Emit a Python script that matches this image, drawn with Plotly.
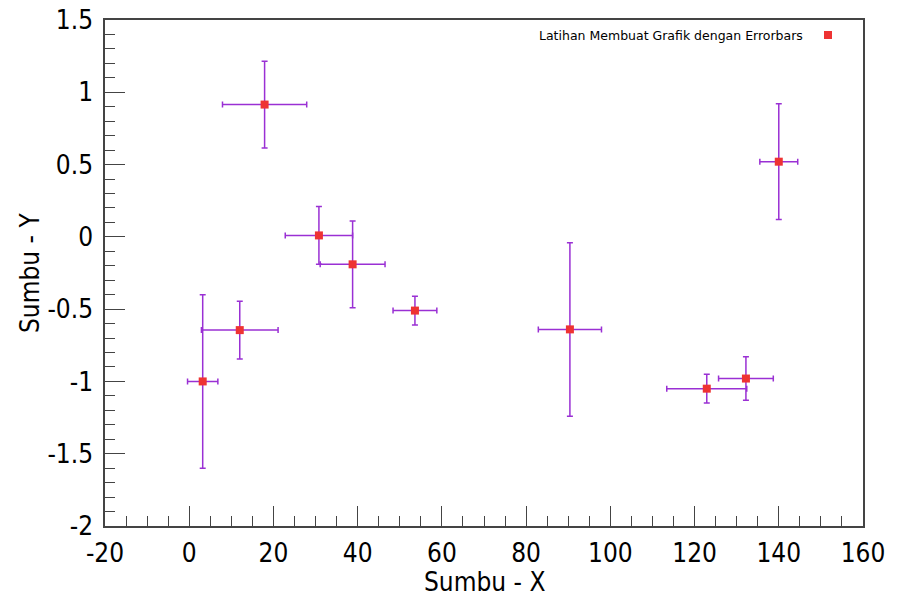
import plotly.graph_objects as go

x_vals = [3.2, 12.0, 17.9, 30.8, 38.8, 53.6, 90.4, 122.9, 132.2, 140.0]
y_vals = [-1.0, -0.645, 0.915, 0.01, -0.19, -0.51, -0.64, -1.05, -0.98, 0.52]
x_err = [3.6, 9.1, 10.0, 8.0, 7.7, 5.2, 7.5, 9.5, 6.5, 4.5]
y_err = [0.6, 0.2, 0.3, 0.2, 0.3, 0.1, 0.6, 0.1, 0.15, 0.4]

x_ticks = [-20, 0, 20, 40, 60, 80, 100, 120, 140, 160]
x_ticklabels = ["-20", "0", "20", "40", "60", "80", "100", "120", "140", "160"]
y_ticks = [-2, -1.5, -1, -0.5, 0, 0.5, 1, 1.5]
y_ticklabels = ["-2", "-1.5", "-1", "-0.5", "0", "0.5", "1", "1.5"]

series_name = "Latihan Membuat Grafik dengan Errorbars"
x_title = "Sumbu - X"
y_title = "Sumbu - Y"

FONT = "DejaVu Sans Condensed, DejaVu Sans, sans-serif"
ERR = "#9a30d4"
MRK = "#ee3333"

L, R, T, B = 105, 863, 20, 526
W, H = 904, 601

fig = go.Figure()
fig.add_trace(go.Scatter(
    x=x_vals, y=y_vals, mode="markers", name=series_name,
    marker=dict(symbol="square", size=8, color=MRK, line=dict(width=0)),
    error_x=dict(type="data", array=x_err, visible=True, color=ERR, thickness=1.5, width=3),
    error_y=dict(type="data", array=y_err, visible=True, color=ERR, thickness=1.5, width=3),
    showlegend=False,
))

fig.update_layout(
    width=W, height=H,
    margin=dict(l=L, r=W - R, t=T, b=H - B),
    paper_bgcolor="white", plot_bgcolor="white",
    font=dict(family=FONT, color="black"),
    xaxis=dict(
        range=[-20, 160], tickmode="array", tickvals=x_ticks, ticktext=x_ticklabels,
        ticks="inside", ticklen=20, tickwidth=1, tickcolor="#444",
        showline=True, linecolor="#444", linewidth=1.5, mirror=True,
        showgrid=False, zeroline=False, automargin=False,
        tickfont=dict(size=26, family=FONT), ticklabelstandoff=3,
        minor=dict(ticks="inside", ticklen=10, tick0=-20, dtick=5, tickcolor="#444", showgrid=False),
    ),
    yaxis=dict(
        range=[-2, 1.5], tickmode="array", tickvals=y_ticks, ticktext=y_ticklabels,
        ticks="inside", ticklen=20, tickwidth=1, tickcolor="#444",
        showline=True, linecolor="#444", linewidth=1.5, mirror=True,
        showgrid=False, zeroline=False, automargin=False,
        tickfont=dict(size=26, family=FONT), ticklabelstandoff=5,
        minor=dict(ticks="inside", ticklen=10, tick0=-2, dtick=0.1, tickcolor="#444", showgrid=False),
    ),
)

# axis titles
fig.add_annotation(
    xref="paper", yref="paper", x=0.5, y=-(582 - B) / (B - T),
    xanchor="center", yanchor="middle", showarrow=False,
    text=x_title, font=dict(size=26, family=FONT, color="black"),
)
fig.add_annotation(
    xref="paper", yref="paper", x=-(L - 30) / (R - L), y=0.5,
    xanchor="center", yanchor="middle", showarrow=False, textangle=-90,
    text=y_title, font=dict(size=26, family=FONT, color="black"),
)

# legend entry (text with marker on its right)
fig.add_annotation(
    xref="paper", yref="paper", x=(805 - L) / (R - L), y=(B - 35) / (B - T),
    xanchor="right", yanchor="middle", showarrow=False,
    text=series_name, font=dict(size=12.5, family="DejaVu Sans, sans-serif", color="black"),
)
fig.add_shape(
    type="rect", xref="paper", yref="paper",
    x0=(824 - L) / (R - L), x1=(832 - L) / (R - L),
    y0=(B - 39) / (B - T), y1=(B - 31) / (B - T),
    fillcolor=MRK, line=dict(width=0),
)

fig.write_html("out.html")
